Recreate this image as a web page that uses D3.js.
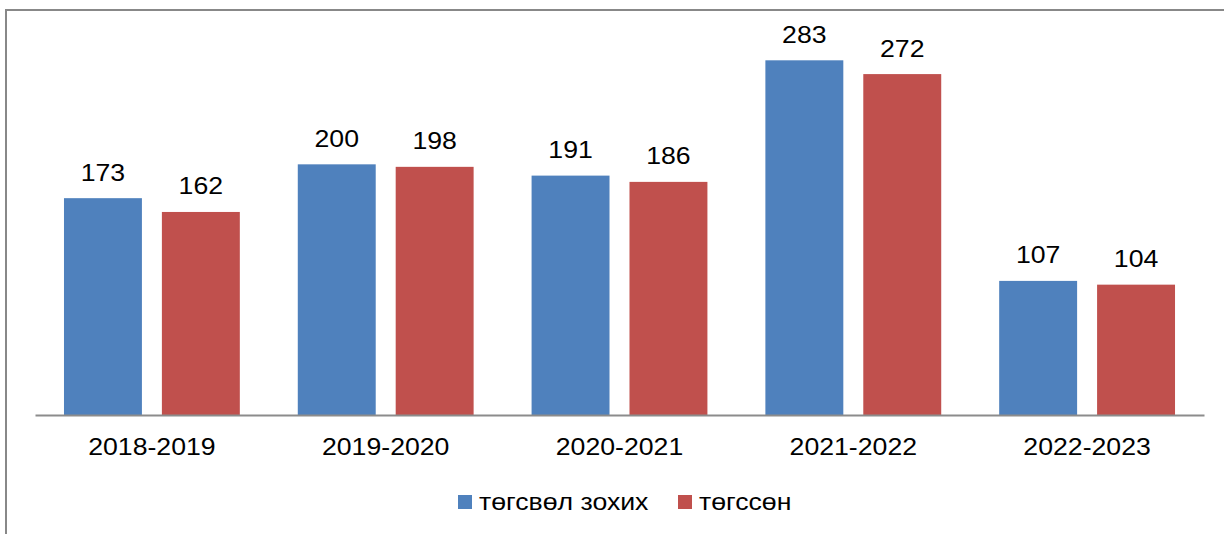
<!DOCTYPE html>
<html>
<head>
<meta charset="utf-8">
<script src="https://cdn.jsdelivr.net/npm/d3@7"></script>
<style>
  html, body { margin: 0; padding: 0; background: #fff; }
  svg { display: block; }
  text { font-family: "Liberation Sans", Arial, sans-serif; fill: #000; }
</style>
</head>
<body>
<svg id="chart" width="1224" height="534"></svg>
<script>
// School years and the two series
const years = ["2018-2019", "2019-2020", "2020-2021", "2021-2022", "2022-2023"];
const seriesNames = ["төгсвөл зохих", "төгссөн"];
const shouldGraduate = [173, 200, 191, 283, 107];
const graduated = [162, 198, 186, 272, 104];
const seriesColors = ["#4F81BD", "#C0504D"];

const seriesValues = [shouldGraduate, graduated];
const rows = years.map((y, i) => ({
  year: y,
  values: seriesNames.map((s, j) => ({ key: s, value: seriesValues[j][i], color: seriesColors[j] }))
}));

const svg = d3.select("#chart");
const W = 1224, H = 534;
const plot = { left: 35, right: 1204, top: 39, bottom: 415 };
const stretch = 1.13;
const fs = 23.6;

// Outer frame (top and left edges visible)
svg.append("path")
  .attr("d", `M6,${H} L6,10 L${W},10`)
  .attr("fill", "none")
  .attr("stroke", "#888")
  .attr("stroke-width", 2);

const x0 = d3.scaleBand().domain(years).range([plot.left, plot.right]).paddingInner(0).paddingOuter(0);
const x1 = d3.scaleBand().domain(seriesNames).range([0, x0.bandwidth()]).paddingInner(0.204).paddingOuter(0.296);
const y = d3.scaleLinear().domain([0, 300]).range([plot.bottom, plot.top]);

const groups = svg.append("g").selectAll("g")
  .data(rows)
  .join("g")
  .attr("transform", d => `translate(${x0(d.year)},0)`);

groups.selectAll("rect")
  .data(d => d.values)
  .join("rect")
  .attr("x", d => x1(d.key))
  .attr("y", d => y(d.value))
  .attr("width", x1.bandwidth())
  .attr("height", d => y(0) - y(d.value))
  .attr("fill", d => d.color);

// Value labels above bars
groups.selectAll("text.val")
  .data(d => d.values)
  .join("text")
  .attr("class", "val")
  .attr("text-anchor", "middle")
  .attr("font-size", fs)
  .attr("transform", d => `translate(${x1(d.key) + x1.bandwidth() / 2},${y(d.value) - 17.5}) scale(${stretch},1)`)
  .text(d => d.value);

// Category axis
const xAxis = svg.append("g")
  .attr("transform", `translate(0,${plot.bottom})`)
  .call(d3.axisBottom(x0).tickSize(0).tickPadding(0));
xAxis.select(".domain").attr("stroke", "#8c8c8c").attr("stroke-width", 2);
xAxis.selectAll(".tick text")
  .attr("font-size", fs)
  .attr("font-family", "Liberation Sans, Arial, sans-serif")
  .attr("fill", "#000")
  .attr("dy", null)
  .attr("y", null)
  .attr("transform", `translate(0,39.5) scale(${stretch},1)`);

// Legend
const legend = svg.append("g").attr("transform", "translate(458,502)");
const legendX = [0, 220];
const items = legend.selectAll("g")
  .data(seriesNames.map((s, i) => ({ name: s, color: seriesColors[i], x: legendX[i] })))
  .join("g")
  .attr("transform", d => `translate(${d.x},0)`);
items.append("rect")
  .attr("x", 0).attr("y", -7)
  .attr("width", 14).attr("height", 14)
  .attr("fill", d => d.color);
items.append("text")
  .attr("font-size", fs)
  .attr("transform", `translate(21,8) scale(${stretch},1)`)
  .text(d => d.name);
</script>
</body>
</html>
